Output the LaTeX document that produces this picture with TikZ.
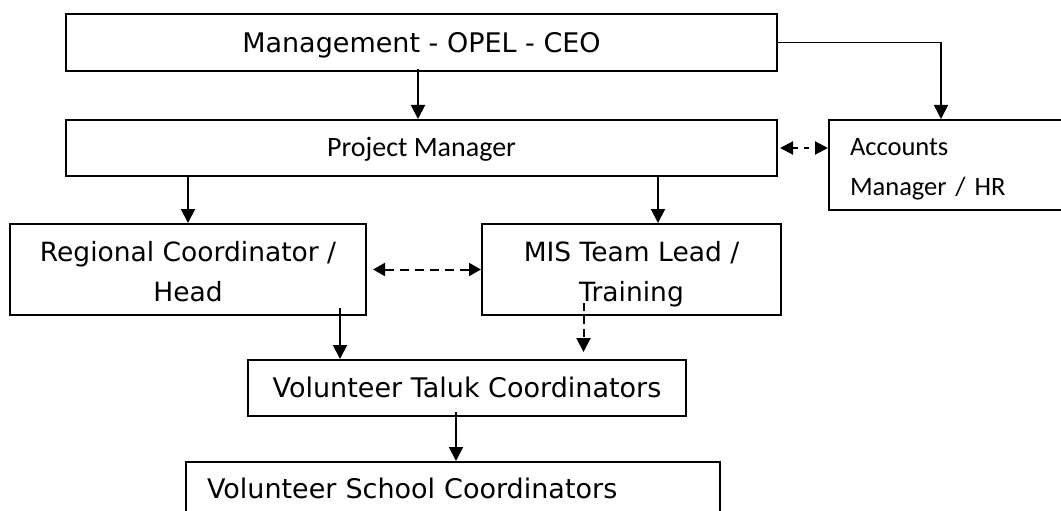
\documentclass[tikz,border=0pt]{standalone}
\usepackage{fontspec}
\setmainfont{DejaVu Sans}
\newfontfamily\calfont{Carlito}
\usetikzlibrary{arrows.meta}
\begin{document}
\begin{tikzpicture}[x=1pt,y=-1pt,
  box/.style={draw, line width=2pt, inner sep=0pt, rectangle},
  verd/.style={font=\fontsize{26.5}{40}\selectfont},
  verdbig/.style={font=\fontsize{27}{40}\selectfont},
  cal/.style={font=\calfont\fontsize{26.5}{40}\selectfont},
  calbig/.style={font=\calfont\fontsize{28}{40}\selectfont},
  arr/.style={line width=2pt, -{Triangle[length=14pt,width=14pt]}},
  thinarr/.style={line width=1.6pt, -{Triangle[length=14pt,width=14pt]}},
  darr/.style={line width=2pt, {Triangle[length=12pt,width=13pt]}-{Triangle[length=12pt,width=13pt]}, dash pattern=on 9pt off 6pt},
  darrs/.style={line width=2pt, {Triangle[length=13pt,width=13pt]}-{Triangle[length=13pt,width=13pt]}, dash pattern=on 5pt off 6pt},
  marr/.style={line width=2pt, -{Triangle[length=14pt,width=14pt]}, dash pattern=on 8pt off 5pt},
]
\useasboundingbox (0,0) rectangle (1061,511);

\node[box,verdbig,minimum width=711pt,minimum height=57pt,text height=19.7pt,text depth=0pt] (mgmt) at (421.5,42.5) {Management - OPEL - CEO};
\node[box,calbig,minimum width=711pt,minimum height=56pt,text height=18pt,text depth=0pt] (pm) at (421.5,148) {Project Manager};
\node[box,cal,minimum width=260pt,minimum height=90pt,inner xsep=21pt,text width=218pt,align=left] (acc) at (959,165) {\rule{0pt}{25.5pt}Accounts\\Manager / HR};
\node[box,verd,minimum width=356pt,minimum height=91pt,align=center] (reg) at (188,269.5) {\rule{0pt}{25.1pt}Regional Coordinator /\\Head};
\node[box,verd,minimum width=299pt,minimum height=91pt,align=center] (mis) at (631.5,269.5) {\rule{0pt}{30.5pt}MIS Team Lead /\\Training};
\node[box,verdbig,minimum width=438pt,minimum height=56pt,text height=19.7pt,text depth=0pt] (taluk) at (467,388) {Volunteer Taluk Coordinators};
\node[box,verdbig,minimum width=534pt,minimum height=54pt,inner xsep=21pt,text width=492pt,align=left,text height=19.7pt,text depth=0pt] (school) at (453,489) {Volunteer School Coordinators};

\coordinate (mdown) at ([xshift=-3.5pt,yshift=3pt]mgmt.south);
\draw[arr] (mdown) -- (mdown |- pm.north);
\draw[thinarr] (mgmt.east) -| ([xshift=113pt]acc.north west);
\draw[darrs] ([xshift=2pt]pm.east) -- (pm.east -| acc.west);

\draw[arr] (reg.north |- pm.south) -- (reg.north);
\coordinate (pm2) at ([xshift=26.5pt]mis.north);
\draw[arr] (pm2 |- pm.south) -- (pm2);

\draw[darr] ([xshift=6pt]reg.east) -- (mis.west);

\coordinate (rdrop) at ([xshift=-27pt,yshift=8pt]reg.south east);
\draw[arr] (rdrop) -- (rdrop |- taluk.north);
\coordinate (mdrop) at ([xshift=102.5pt,yshift=13pt]mis.south west);
\draw[marr, shorten >=7pt] (mdrop) -- (mdrop |- taluk.north);

\coordinate (tdrop) at ([xshift=-11pt,yshift=5pt]taluk.south);
\draw[arr] (tdrop) -- (tdrop |- school.north);
\end{tikzpicture}
\end{document}
